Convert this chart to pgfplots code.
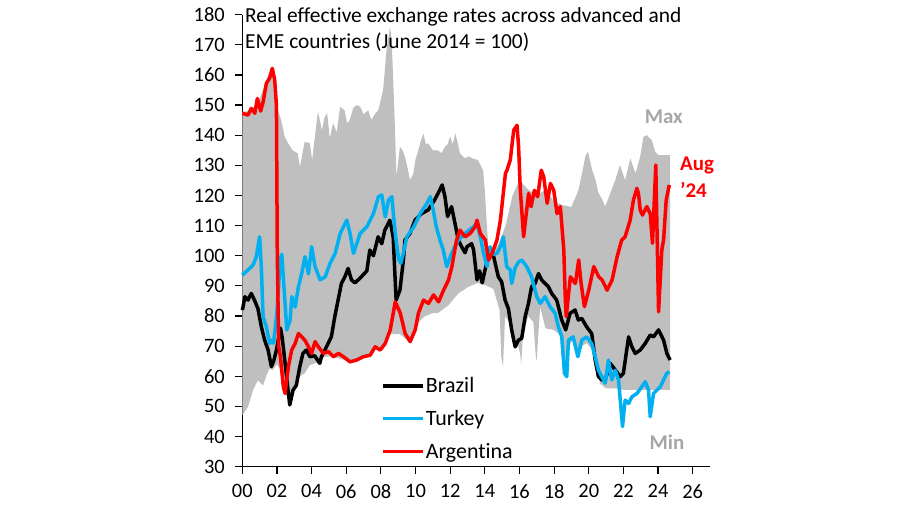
\documentclass[border=0pt]{standalone}
\usepackage{pgfplots}
\pgfplotsset{compat=1.18}
\usepgfplotslibrary{fillbetween}
\usepackage{fontspec}
\setmainfont{Carlito}[Ligatures=NoCommon]
\definecolor{envgray}{RGB}{191,191,191}
\definecolor{labgray}{RGB}{166,166,166}
\definecolor{tkblue}{RGB}{0,176,240}
\definecolor{arred}{RGB}{255,0,0}
\begin{document}
\begin{tikzpicture}
\begin{axis}[
  at={(242.3bp,38.3bp)}, anchor=south west, scale only axis,
  width=467.7bp, height=452bp,
  xmin=0, xmax=27, ymin=30, ymax=180,
  axis lines*=left,
  axis line style={line width=1.6bp, black},
  xtick={0,2,...,26},
  xticklabels={00,02,04,06,08,10,12,14,16,18,20,22,24,26},
  ytick={30,40,...,180},
  yticklabels={30,40,50,60,70,80,90,100,110,120,130,140,150,160,170,180},
  tick align=outside, major tick length=7bp,
  tick style={line width=1.2bp, black},
  ticklabel style={font=\fontsize{20.5}{22}\selectfont, text=black},
  xticklabel style={yshift=-7bp},
  yticklabel style={xshift=-7bp},
  clip=false,
  legend cell align=left,
  legend style={at={(0.296,0.201)}, anchor=north west, draw=none, fill=none,
    font=\fontsize{22}{24}\selectfont, row sep=13bp, inner sep=0pt,
    nodes={inner sep=1.5bp}},
  legend image code/.code={\draw[#1] (0bp,0bp) -- (40bp,0bp);},
]
\addplot[name path=mx, draw=none, forget plot] coordinates {
(0,147.8)(0.5,148)(1.0,152)(1.5,160)(1.75,162)(2.0,149.5)(2.2,146)(2.45,139.5)(2.64,137.4)(2.9,135)(3.2,134)(3.33,129.5)(3.6,137.8)(3.9,137.4)(4.03,131.7)(4.2,140)(4.37,147.8)(4.6,141.7)(4.75,146)(4.9,147.3)(5.05,139)(5.24,144)(5.45,141)(5.65,149.5)(5.9,148.3)(6.05,144)(6.2,145)(6.4,149)(6.6,150)(6.8,149.5)(7.0,147)(7.27,148.3)(7.45,145)(7.65,147)(7.85,148.3)(8.13,155)(8.32,168)(8.45,173)(8.52,176)(8.62,172)(8.77,149.5)(8.9,126.2)(9.1,136.2)(9.25,135)(9.39,132.9)(9.55,129)(9.68,125.1)(9.87,127.3)(10.0,132)(10.16,135)(10.3,138)(10.45,140.6)(10.6,137)(10.73,137.3)(11.0,135)(11.3,135)(11.5,134)(11.7,136.2)(11.85,137)(12.0,139.5)(12.15,137)(12.3,140.7)(12.57,134)(12.86,132.3)(13.05,133)(13.3,132.3)(13.6,131.8)(13.9,128.4)(14.0,121.8)(14.1,112)(14.2,103)(14.5,102)(14.8,104)(15.2,110)(15.6,120)(16.0,125)(16.5,122)(17.0,120)(17.5,122)(18.0,118)(18.5,116.8)(19.0,116.2)(19.4,121.7)(19.6,127)(19.8,132.9)(19.95,134.7)(20.2,128.4)(20.4,125)(20.55,121)(20.75,119)(20.95,116.3)(21.24,120.7)(21.53,125.1)(21.8,130.1)(22.1,125.1)(22.4,132.3)(22.7,127.3)(22.97,132.9)(23.16,139.5)(23.35,140)(23.64,138.4)(23.84,134.5)(24.03,133.4)(24.7,133.4)};
\addplot[name path=mn, draw=none, forget plot] coordinates {
(0,47)(0.33,49.9)(0.62,55.4)(0.9,58.7)(1.2,57)(1.39,60.3)(1.58,62.6)(1.75,62)(2.0,64)(2.2,62)(2.37,56.5)(2.47,54.3)(2.6,53)(2.74,50.5)(2.93,55)(3.12,57)(3.32,60)(3.6,61)(3.9,63.7)(4.37,64.7)(4.76,66.5)(5.15,66.5)(5.55,66)(5.84,65.5)(6.22,64.8)(6.6,65.4)(6.99,66.5)(7.38,67)(7.67,69.5)(7.96,68.7)(8.25,70.9)(8.54,74)(8.8,74)(9.1,74)(9.4,72.5)(9.69,71.5)(9.98,75)(10.2,78)(10.5,79.8)(11.0,81)(11.3,81)(11.9,83.6)(12.47,87.5)(13.05,89.7)(13.6,91)(14.0,90.3)(14.5,89)(14.85,82)(14.95,66.5)(15.05,63.2)(15.17,80)(15.4,78)(15.6,72)(15.75,69)(15.94,70)(16.05,67)(16.1,63.7)(16.2,74)(16.5,80)(16.8,78)(16.95,66)(17.0,65.4)(17.1,75)(17.2,83)(17.5,75.9)(17.96,75.4)(18.3,74)(18.44,72.5)(18.6,60.5)(18.73,59.5)(18.83,70)(19.1,72)(19.37,66)(19.6,70)(19.88,71)(20.17,69)(20.37,65)(20.66,57.5)(21.0,56)(21.5,56)(22.0,55.5)(24.7,55.5)};
\addplot[envgray, forget plot] fill between[of=mx and mn];
\addplot[black, line width=3.5bp, line join=round] coordinates {
(0,82)(0.04,83)(0.15,86.4)(0.33,85.3)(0.52,87.5)(0.7,85.3)(0.9,82.5)(1.1,76.4)(1.29,72)(1.49,68.7)(1.68,63.2)(1.83,65.4)(1.97,68.7)(2.2,76)(2.3,73)(2.45,65.4)(2.64,55.4)(2.74,50.5)(2.93,55.4)(3.12,57)(3.32,63.2)(3.5,67.6)(3.7,68.7)(3.9,66.5)(4.18,66.8)(4.47,64.3)(4.57,66.5)(4.86,69.8)(5.14,73.1)(5.34,79.8)(5.53,85.3)(5.72,90.8)(5.92,93)(6.11,95.8)(6.3,92)(6.5,91)(6.8,92.6)(7.19,95)(7.36,101.9)(7.57,100)(7.84,106.3)(8.05,104)(8.23,108.5)(8.52,111.8)(8.71,106.3)(8.8,95)(8.88,85.3)(9.1,88.6)(9.3,98.6)(9.39,105.2)(9.68,107.4)(9.97,111.8)(10.35,114)(10.73,115.2)(11.1,118.5)(11.3,120.7)(11.54,123.5)(11.7,119.6)(11.85,113)(12.08,116.3)(12.28,110.7)(12.47,105.2)(12.66,103)(12.86,101)(12.97,103)(13.24,104)(13.35,102)(13.55,92)(13.7,95)(13.85,91)(14.0,95)(14.2,99.7)(14.5,100)(14.78,93)(14.97,91.4)(15.17,85.3)(15.36,82.5)(15.55,75.4)(15.75,69.8)(15.94,72)(16.13,72.6)(16.33,79.8)(16.52,84.2)(16.7,89.7)(16.9,90.8)(17.1,94.1)(17.28,92)(17.48,90.8)(17.67,89.7)(17.86,87.5)(18.15,85.3)(18.44,78.7)(18.67,75.4)(18.92,80.9)(19.21,82)(19.4,78.7)(19.6,79.2)(19.88,76.4)(20.17,74.2)(20.37,65.4)(20.56,59.9)(20.75,58.8)(20.95,58.8)(21.24,64.3)(21.53,62.1)(21.82,59.9)(22.0,61)(22.3,73.1)(22.49,69.8)(22.68,67.6)(22.97,68.7)(23.26,70.9)(23.55,73.7)(23.74,73.1)(24.03,75.4)(24.32,72)(24.51,67.6)(24.7,65.4)};
\addlegendentry{Brazil}
\addplot[tkblue, line width=3.5bp, line join=round] coordinates {
(0,93.6)(0.33,95.3)(0.62,96.9)(0.81,99.7)(1.0,106.3)(1.1,96)(1.2,79.8)(1.39,76.4)(1.58,70.9)(1.7,72)(1.8,71)(1.98,80)(2.1,90)(2.18,98.6)(2.28,100.5)(2.57,75.4)(2.76,78.7)(2.86,86.4)(3.05,83)(3.24,89.7)(3.43,94.1)(3.62,99.7)(3.82,94)(4.0,103)(4.2,96.4)(4.49,92)(4.78,93)(5.07,97.5)(5.36,100.8)(5.65,107.4)(6.03,111.8)(6.22,107.4)(6.42,100.8)(6.8,107.4)(7.19,109.6)(7.57,114)(7.86,119.6)(8.05,120.2)(8.25,112.9)(8.44,118.5)(8.63,119.6)(8.83,107.4)(9.02,99)(9.15,97.5)(9.3,101)(9.5,106.3)(9.9,109.6)(10.27,114)(10.66,117.4)(10.85,119.6)(11.02,115.2)(11.2,109.6)(11.41,105.2)(11.6,102)(11.8,96.4)(12.08,100.8)(12.47,105.2)(12.86,107.4)(13.34,109.6)(13.55,110.7)(13.74,106.3)(13.93,100.8)(14.13,96.4)(14.3,103)(14.5,100.5)(14.7,100.8)(14.9,103)(15.07,106.3)(15.26,96.4)(15.47,95.3)(15.55,90.8)(15.75,96)(15.94,97.9)(16.13,98.6)(16.42,96.4)(16.7,93)(17.0,86.4)(17.2,84.2)(17.48,86.4)(17.77,83.1)(18.06,80.9)(18.25,76.4)(18.44,73.1)(18.6,61)(18.73,59.9)(18.83,72)(19.1,73.1)(19.37,66.5)(19.6,72)(19.88,73.1)(20.17,70.9)(20.37,66.5)(20.56,62)(20.75,59.9)(20.95,57.7)(21.14,65.4)(21.33,58.8)(21.53,62)(21.72,58.8)(21.95,43.3)(22.1,52.1)(22.3,51)(22.49,53.2)(22.78,54.3)(23.06,56.5)(23.26,58.2)(23.45,55.4)(23.55,46.6)(23.74,54.3)(23.93,55.4)(24.13,56.5)(24.32,58.8)(24.51,61)(24.66,61.5)};
\addlegendentry{Turkey}
\addplot[arred, line width=3.5bp, line join=round] coordinates {
(0,147.3)(0.33,146.7)(0.52,148.9)(0.72,147.3)(0.87,152.2)(1.06,148)(1.2,151)(1.39,157.2)(1.58,159)(1.73,162.2)(1.87,158.4)(1.97,150)(2.02,100)(2.1,70)(2.2,66.5)(2.37,56.5)(2.47,54.3)(2.66,63.2)(2.85,68.7)(3.05,70.9)(3.24,74.2)(3.43,73.1)(3.62,71.9)(3.82,69.8)(4.0,67.6)(4.2,71.5)(4.39,69.8)(4.68,67.6)(4.97,68.2)(5.26,66.5)(5.55,67.6)(5.84,66.5)(6.22,64.8)(6.6,65.4)(6.99,66.5)(7.38,67)(7.67,69.8)(7.96,68.7)(8.25,70.9)(8.54,75.4)(8.83,84.7)(9.12,81)(9.4,74.2)(9.69,71.5)(9.98,75.4)(10.17,81)(10.46,85.3)(10.75,84.2)(11.04,87)(11.33,84.7)(11.62,88.6)(11.9,91.9)(12.1,96.4)(12.3,103)(12.37,105.2)(12.57,108.5)(12.86,106.3)(13.15,107.4)(13.44,109.6)(13.55,111.8)(13.74,107.4)(14.03,105.2)(14.22,98.6)(14.42,100.8)(14.7,105.2)(14.9,111.8)(15.19,127.3)(15.28,128.4)(15.47,131.8)(15.67,141.7)(15.86,143.3)(15.95,136.2)(16.05,121.7)(16.24,106.3)(16.44,116.3)(16.53,120.7)(16.67,116.3)(16.86,121.7)(17.05,119.6)(17.26,128.4)(17.4,126.2)(17.6,117.4)(17.79,124)(17.98,121.7)(18.17,114)(18.36,116.3)(18.56,101.9)(18.65,85)(18.7,79.8)(18.94,93)(19.23,90.8)(19.42,98.6)(19.56,90.8)(19.75,83.1)(20.0,88.6)(20.29,96.4)(20.58,93)(20.77,92)(21.06,88.6)(21.35,92)(21.64,99.7)(21.9,105.2)(22.1,106.3)(22.39,111.8)(22.58,118.5)(22.78,122.4)(22.87,120.7)(22.97,115.2)(23.1,113.5)(23.35,116.3)(23.55,114)(23.68,104.1)(23.87,130.1)(24.03,81.4)(24.22,102)(24.32,105.2)(24.47,118.5)(24.65,123.5)};
\addlegendentry{Argentina}
\end{axis}
\node[anchor=base west, inner sep=0pt, font=\fontsize{21.5}{23}\selectfont] at (245bp,482.3bp) {Real effective exchange rates across advanced and};
\node[anchor=base west, inner sep=0pt, font=\fontsize{21.5}{23}\selectfont] at (245bp,456.7bp) {EME countries (June 2014 = 100)};
\node[anchor=base, inner sep=0pt, text=labgray, font=\bfseries\fontsize{21}{23}\selectfont] at (663.8bp,381bp) {Max};
\node[anchor=base, inner sep=0pt, text=labgray, font=\bfseries\fontsize{21}{23}\selectfont] at (667bp,55.7bp) {Min};
\node[anchor=base west, inner sep=0pt, text=arred, font=\bfseries\fontsize{21}{23}\selectfont] at (680bp,334bp) {Aug};
\node[anchor=base west, inner sep=0pt, text=arred, font=\bfseries\fontsize{21}{23}\selectfont] at (680bp,307.7bp) {'24};
\path (0bp,0bp) rectangle (900bp,505bp);
\end{tikzpicture}
\end{document}
